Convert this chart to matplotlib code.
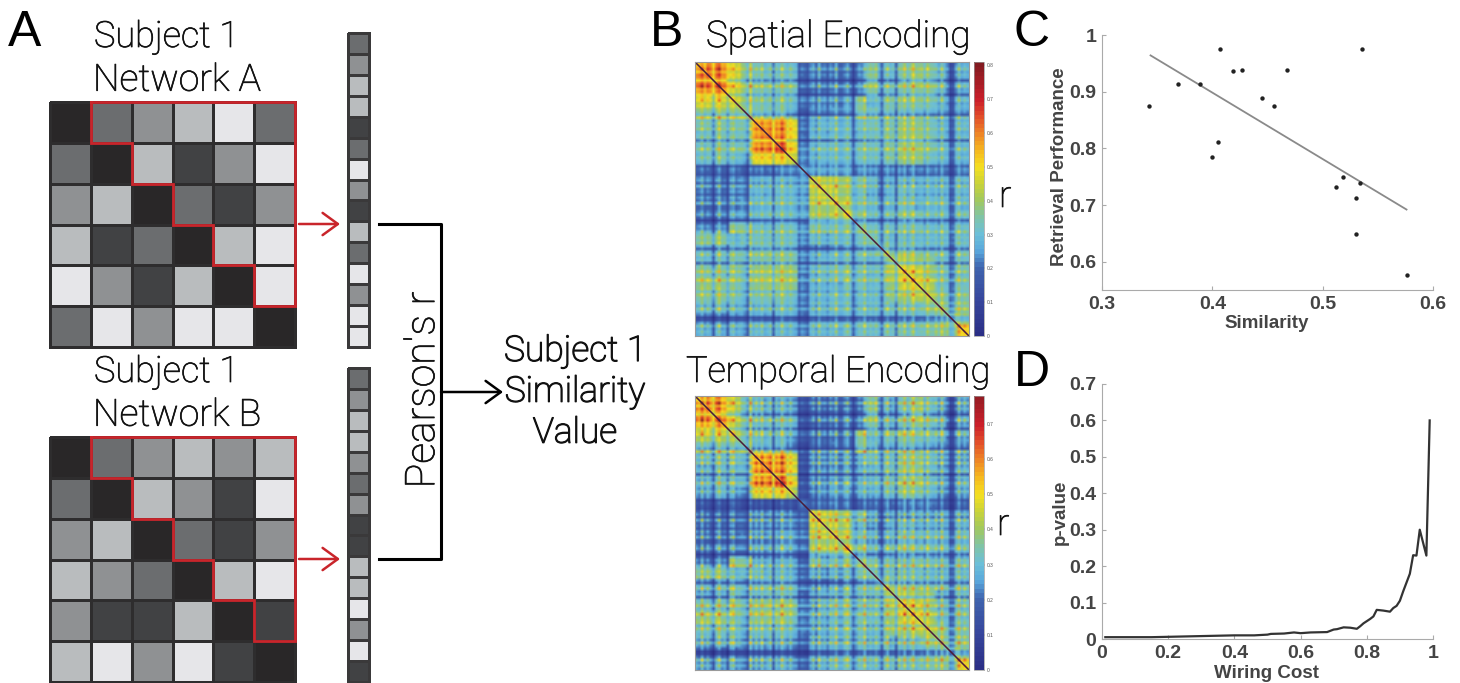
import numpy as np
import matplotlib
matplotlib.use("Agg")
import matplotlib.pyplot as plt
import matplotlib.patheffects as pe
from matplotlib.colors import LinearSegmentedColormap, ListedColormap

# panel A, grey levels (0 = diagonal black, 5 = lightest)
net_a = [[0, 2, 3, 4, 5, 2],
         [2, 0, 4, 1, 3, 5],
         [3, 4, 0, 2, 1, 3],
         [4, 1, 2, 0, 4, 5],
         [5, 3, 1, 4, 0, 5],
         [2, 5, 3, 5, 5, 0]]
net_b = [[0, 2, 3, 4, 3, 4],
         [2, 0, 4, 3, 1, 5],
         [3, 4, 0, 2, 1, 3],
         [4, 3, 2, 0, 4, 5],
         [3, 1, 1, 4, 0, 1],
         [4, 5, 3, 5, 1, 0]]
grey_levels = ["#292728", "#414244", "#6b6d6f", "#8f9193", "#b9bcbe", "#e6e6e9"]

# panel B, upper triangles of the coarse correlation blocks (r x 100)
spatial_blocks = [
    [52, 58, 56, 44, 38, 32, 30, 30, 30, 24, 22, 20, 20, 20, 22, 34, 28, 30, 34, 36, 34, 28, 22, 26],
    [60, 58, 44, 38, 32, 32, 32, 32, 24, 22, 20, 20, 20, 22, 36, 28, 30, 34, 38, 34, 30, 22, 26],
    [58, 44, 40, 34, 34, 34, 34, 24, 20, 20, 22, 22, 24, 36, 30, 32, 34, 36, 36, 30, 22, 26],
    [42, 38, 32, 32, 32, 30, 26, 22, 22, 22, 24, 34, 28, 30, 34, 34, 34, 32, 28, 24, 26],
    [42, 34, 34, 34, 30, 24, 24, 24, 26, 26, 36, 34, 32, 34, 32, 32, 30, 28, 26, 26],
    [54, 56, 56, 48, 26, 26, 28, 28, 28, 30, 32, 32, 34, 36, 36, 32, 28, 26, 28],
    [60, 58, 50, 26, 28, 28, 30, 30, 30, 32, 34, 36, 38, 38, 34, 30, 26, 28],
    [62, 50, 28, 28, 30, 30, 30, 32, 32, 32, 36, 38, 38, 34, 30, 28, 28],
    [46, 30, 28, 30, 30, 30, 32, 32, 32, 36, 38, 38, 32, 30, 28, 28],
    [38, 32, 32, 32, 32, 30, 30, 28, 30, 28, 28, 28, 28, 26, 28],
    [44, 42, 40, 38, 34, 30, 24, 28, 28, 28, 28, 28, 28, 28],
    [44, 40, 38, 32, 28, 24, 30, 30, 28, 28, 28, 28, 28],
    [42, 40, 32, 30, 26, 30, 32, 28, 30, 30, 28, 28],
    [44, 34, 30, 28, 32, 34, 32, 30, 30, 28, 30],
    [34, 32, 30, 32, 32, 32, 30, 30, 30, 30],
    [34, 30, 30, 30, 30, 30, 30, 30, 30],
    [36, 34, 34, 32, 30, 30, 28, 30],
    [44, 42, 40, 38, 32, 30, 32],
    [46, 44, 38, 32, 30, 32],
    [46, 42, 32, 30, 32],
    [42, 36, 32, 34],
    [38, 34, 36],
    [42, 38],
    [50],
]
temporal_blocks = [
    [52, 58, 54, 42, 36, 30, 28, 28, 28, 22, 20, 20, 20, 20, 22, 36, 28, 28, 34, 38, 32, 28, 20, 26],
    [60, 56, 42, 36, 32, 30, 30, 30, 22, 20, 20, 20, 22, 22, 38, 28, 28, 34, 40, 32, 28, 20, 26],
    [58, 42, 38, 32, 32, 32, 32, 22, 18, 20, 20, 22, 24, 36, 30, 30, 34, 38, 34, 30, 20, 26],
    [40, 36, 32, 30, 30, 28, 24, 20, 20, 20, 22, 36, 30, 30, 34, 36, 34, 32, 30, 22, 26],
    [40, 32, 32, 32, 28, 22, 22, 22, 24, 24, 38, 34, 30, 32, 34, 32, 30, 28, 24, 26],
    [54, 56, 56, 48, 22, 24, 24, 24, 26, 28, 32, 30, 32, 36, 36, 32, 28, 24, 26],
    [60, 58, 50, 22, 24, 24, 24, 26, 28, 30, 32, 34, 38, 38, 32, 28, 24, 28],
    [62, 50, 22, 24, 24, 26, 28, 28, 30, 32, 34, 38, 38, 32, 28, 24, 28],
    [46, 24, 24, 26, 28, 28, 30, 30, 32, 34, 38, 36, 32, 28, 24, 28],
    [36, 26, 28, 28, 28, 26, 28, 28, 28, 30, 30, 30, 26, 24, 26],
    [46, 44, 40, 38, 34, 28, 22, 28, 26, 28, 26, 28, 26, 26],
    [44, 42, 40, 30, 26, 22, 30, 30, 28, 28, 28, 26, 28],
    [42, 40, 32, 28, 24, 30, 32, 30, 30, 30, 28, 30],
    [46, 36, 30, 28, 34, 34, 32, 32, 30, 30, 30],
    [36, 34, 30, 34, 32, 34, 32, 32, 30, 32],
    [34, 30, 34, 32, 32, 30, 30, 30, 30],
    [38, 38, 34, 34, 32, 32, 30, 30],
    [44, 42, 40, 40, 30, 30, 32],
    [46, 44, 38, 32, 30, 32],
    [46, 42, 32, 30, 32],
    [42, 38, 32, 34],
    [38, 34, 36],
    [40, 36],
    [48],
]
# row / column streaks (r x 100)
spatial_streaks = [0, 1, 5, -1, 2, 0, -9, 1, 6, -1, 0, -8, 2, 4, -1, 1, 0, -3, -9, 5,
                   -1, 2, 0, 4, -2, 0, 2, -9, 1, -1, 5, 0, -2, 2, -1, -3, -9, -4, -6, -9,
                   0, 2, -3, 5, 0, 1, -3, 2, 0, 6, -2, -2, 1, 4, -1, -11, -4, 1, 0, 5,
                   -2, 1, -1, 2, -2, -10, 1, 5, -2, 0, -11, 2, 0, 5, -3, 1, 6, -2, 0, 1,
                   -3, 4, 0, -1, 2, -3, 5, -1, 0, -11, -9, 1, 5, -1, 2, 0]
temporal_streaks = [1, -2, 6, -2, 2, -3, -10, 1, 6, -2, 0, -9, 3, 5, -2, 0, -2, -4, -10, 6,
                    -2, 3, -2, 5, -3, 0, 3, -10, 1, -2, 6, 0, -3, 2, -3, -5, -10, -6, -8, -10,
                    -1, 3, -4, 6, -1, 1, -4, 3, 0, 6, -3, -3, 2, 5, -2, -11, -6, 1, -1, 6,
                    -3, 1, -2, 3, -3, -11, 1, 6, -3, 0, -11, 3, -1, 6, -4, 1, 6, -3, 0, 2,
                    -4, 5, 0, -2, 3, -4, 6, -2, 0, -11, -10, 1, 6, -2, 3, -1]
spatial_top = 0.81
temporal_top = 0.78
cbar_stops = [0, 0.1, 0.2, 0.25, 0.3, 0.35, 0.4, 0.45, 0.5, 0.55, 0.6, 0.65, 0.7, 0.82]
cbar_colors = ["#2b2f86", "#37469c", "#3f64ae", "#5aa8dc", "#6cbfd8", "#7fc4a8", "#a0c860",
               "#c8d23a", "#f5e020", "#f5b820", "#ee8526", "#e2502a", "#cc1f2a", "#7a1a20"]

# panel C
similarity = [0.343, 0.369, 0.389, 0.400, 0.405, 0.407, 0.419, 0.427, 0.445,
              0.456, 0.468, 0.512, 0.518, 0.530, 0.530, 0.534, 0.536, 0.576]
retrieval = [0.875, 0.913, 0.913, 0.784, 0.812, 0.975, 0.936, 0.938, 0.888,
             0.874, 0.938, 0.731, 0.749, 0.712, 0.649, 0.738, 0.975, 0.576]
fit_x = [0.344, 0.576]
fit_y = [0.964, 0.692]

# panel D
wiring = [0.01, 0.15, 0.30, 0.40, 0.46, 0.50, 0.51, 0.55, 0.58, 0.60, 0.63, 0.68, 0.70,
          0.71, 0.73, 0.75, 0.77, 0.78, 0.79, 0.81, 0.82, 0.83, 0.85, 0.87, 0.88, 0.89,
          0.90, 0.91, 0.93, 0.94, 0.95, 0.96, 0.98, 0.99]
pvalue = [0.005, 0.005, 0.008, 0.010, 0.010, 0.012, 0.014, 0.015, 0.018, 0.016, 0.018,
          0.019, 0.026, 0.027, 0.032, 0.031, 0.028, 0.035, 0.043, 0.055, 0.062, 0.080,
          0.078, 0.075, 0.085, 0.091, 0.105, 0.131, 0.179, 0.230, 0.229, 0.300, 0.229, 0.600]

W, H = 1460, 683
plt.rcParams["font.family"] = ["Liberation Sans", "DejaVu Sans"]
fig = plt.figure(figsize=(W / 100, H / 100), dpi=100)


def px_axes(x0, y0, x1, y1):
    """Axes placed with pixel edges, y counted from the top."""
    return fig.add_axes([x0 / W, 1 - y1 / H, (x1 - x0) / W, (y1 - y0) / H])


# overlay for the labels and connectors
bg = fig.add_axes([0, 0, 1, 1])
bg.set_xlim(0, W)
bg.set_ylim(H, 0)
bg.axis("off")

grey_cmap = ListedColormap(grey_levels)


def draw_network(matrix, y0, y1):
    ax = px_axes(50, y0, 295, y1)
    ax.pcolormesh(np.array(matrix), cmap=grey_cmap, vmin=-0.5, vmax=5.5,
                  edgecolors="#2e2d2e", linewidth=2.0, clip_on=False)
    ax.set_xlim(0, 6)
    ax.set_ylim(6, 0)
    ax.axis("off")
    ax.plot([1, 6, 6, 5, 5, 4, 4, 3, 3, 2, 2, 1, 1], [0, 0, 5, 5, 4, 4, 3, 3, 2, 2, 1, 1, 0],
            color="#c9252b", lw=2.0, clip_on=False, solid_joinstyle="miter", zorder=5)


def draw_vector(matrix, y0, y1):
    # upper triangle, column by column
    m = np.array(matrix)
    values = [m[i, j] for j in range(1, 6) for i in range(j)]
    ax = px_axes(348, y0, 369, y1)
    ax.pcolormesh(np.array(values).reshape(-1, 1), cmap=grey_cmap, vmin=-0.5, vmax=5.5,
                  edgecolors="#3a393a", linewidth=2.0, clip_on=False)
    ax.set_ylim(len(values), 0)
    ax.axis("off")


draw_network(net_a, 102, 347)
draw_network(net_b, 437, 682)
draw_vector(net_a, 33, 347)
draw_vector(net_b, 368, 682)

thin = dict(family=["Roboto", "Liberation Sans"], fontweight="light", color="#111111", va="center",
            path_effects=[pe.withStroke(linewidth=0.5, foreground="#111111")])
heavier = dict(family=["Roboto", "Liberation Sans"], fontweight="light", color="#111111", va="center",
               path_effects=[pe.withStroke(linewidth=0.9, foreground="#111111")])
letter = dict(fontsize=36, color="black", va="center")
bg.text(8, 33, "A", **letter)
bg.text(94, 37, "Subject 1", fontsize=26, **thin)
bg.text(93, 80, "Network A", fontsize=27, **thin)
bg.text(94, 372, "Subject 1", fontsize=26, **thin)
bg.text(93, 415, "Network B", fontsize=27, **thin)

head = "->,head_length=1.1,head_width=0.8"
for y in (224, 559):
    bg.annotate("", xy=(340, y), xytext=(299, y),
                arrowprops=dict(arrowstyle=head, color="#c9252b", lw=1.8, shrinkA=0, shrinkB=0))
bg.plot([379, 441, 441, 379], [224, 224, 559, 559], color="black", lw=2.2)
bg.annotate("", xy=(503, 392), xytext=(441, 392),
            arrowprops=dict(arrowstyle=head, color="black", lw=1.8, shrinkA=0, shrinkB=0))
bg.text(423, 390, "Pearson's r", fontsize=29.5, rotation=90, ha="center", **thin)
bg.text(575, 351, "Subject 1", ha="center", fontsize=25.5, **heavier)
bg.text(575, 392, "Similarity", ha="center", fontsize=25.5, **heavier)
bg.text(575, 433, "Value", ha="center", fontsize=25.5, **heavier)

jet_like = LinearSegmentedColormap.from_list(
    "jet_like", [(s / cbar_stops[-1], c) for s, c in zip(cbar_stops, cbar_colors)], N=64)


def expand(blocks, streaks):
    # mirror the triangle, then lay the streaks and their crossings over it
    n = len(blocks)
    m = np.zeros((n, n))
    for i, row in enumerate(blocks):
        m[i, i:] = row
        m[i:, i] = row
    k = len(streaks) // n
    s = np.array(streaks, dtype=float)
    up = np.clip(s, 0, None)
    return (np.kron(m, np.ones((k, k))) + s[:, None] + s[None, :] + 0.35 * up[:, None] * up[None, :]) / 100


def draw_heatmap(blocks, streaks, top, y0, y1, tick_vals):
    ax = px_axes(695, y0, 969, y1)
    data = expand(blocks, streaks)
    im = ax.imshow(data, cmap=jet_like, vmin=0, vmax=cbar_stops[-1], extent=(0, 1, 1, 0),
                   interpolation="bilinear", aspect="auto")
    ax.plot([0, 1], [0, 1], color="#4a1c3c", lw=1.1)
    ax.set_xticks([])
    ax.set_yticks([])
    for s in ax.spines.values():
        s.set_color("#9a9a9a")
        s.set_linewidth(0.8)
    cax = px_axes(974, y0, 984, y1)
    cb = fig.colorbar(im, cax=cax)
    cb.ax.set_ylim(0, top)
    cb.set_ticks(tick_vals)
    cb.set_ticklabels([("%g" % t) for t in tick_vals])
    cb.ax.tick_params(labelsize=3.5, length=1, width=0.3, colors="#555555", pad=1)
    cb.outline.set_edgecolor("#9a9a9a")
    cb.outline.set_linewidth(0.5)


draw_heatmap(spatial_blocks, spatial_streaks, spatial_top, 62, 336,
             [0, 0.1, 0.2, 0.3, 0.4, 0.5, 0.6, 0.7, 0.8])
draw_heatmap(temporal_blocks, temporal_streaks, temporal_top, 396, 670,
             [0, 0.1, 0.2, 0.3, 0.4, 0.5, 0.6, 0.7])

bg.text(650, 33, "B", **letter)
bg.text(706, 37, "Spatial Encoding", fontsize=26.5, **thin)
bg.text(686, 372, "Temporal Encoding", fontsize=26, **thin)
bg.text(999, 197, "r", fontsize=26.5, **thin)
bg.text(997, 525, "r", fontsize=26.5, **thin)
bg.text(1014, 33, "C", **letter)
bg.text(1014, 373, "D", **letter)


def style_line_axes(ax):
    ax.spines["top"].set_visible(False)
    ax.spines["right"].set_visible(False)
    for s in ("left", "bottom"):
        ax.spines[s].set_color("#aaaaaa")
        ax.spines[s].set_linewidth(0.8)
    ax.tick_params(direction="in", length=3, width=0.8, color="#aaaaaa", labelcolor="#444444",
                   labelsize=14, pad=4)
    for t in ax.get_xticklabels() + ax.get_yticklabels():
        t.set_fontweight("bold")


axc = px_axes(1102, 35, 1433, 290)
axc.plot(fit_x, fit_y, color="#8a8a8a", lw=1.3)
axc.scatter(similarity, retrieval, s=10, color="#222222", zorder=3, linewidths=0)
axc.set_xlim(0.3, 0.6)
axc.set_ylim(0.55, 1)
axc.set_xticks([0.3, 0.4, 0.5, 0.6])
axc.set_xticklabels(["0.3", "0.4", "0.5", "0.6"])
axc.set_yticks([0.6, 0.7, 0.8, 0.9, 1])
axc.set_yticklabels(["0.6", "0.7", "0.8", "0.9", "1"])
style_line_axes(axc)

axd = px_axes(1102, 384, 1433, 639)
axd.plot(wiring, pvalue, color="#333333", lw=1.6)
axd.set_xlim(0, 1)
axd.set_ylim(0, 0.7)
axd.set_xticks([0, 0.2, 0.4, 0.6, 0.8, 1])
axd.set_xticklabels(["0", "0.2", "0.4", "0.6", "0.8", "1"])
axd.set_yticks([0, 0.1, 0.2, 0.3, 0.4, 0.5, 0.6, 0.7])
axd.set_yticklabels(["0", "0.1", "0.2", "0.3", "0.4", "0.5", "0.6", "0.7"])
style_line_axes(axd)

axis_font = dict(fontsize=13.5, fontweight="bold", color="#444444", ha="center", va="center")
bg.text(1267, 323, "Similarity", **axis_font)
bg.text(1059, 167, "Retrieval Performance", rotation=90, **axis_font)
bg.text(1267, 673, "Wiring Cost", **axis_font)
bg.text(1060, 512, "p-value", rotation=90, **axis_font)

fig.savefig("out.png", dpi=100)
